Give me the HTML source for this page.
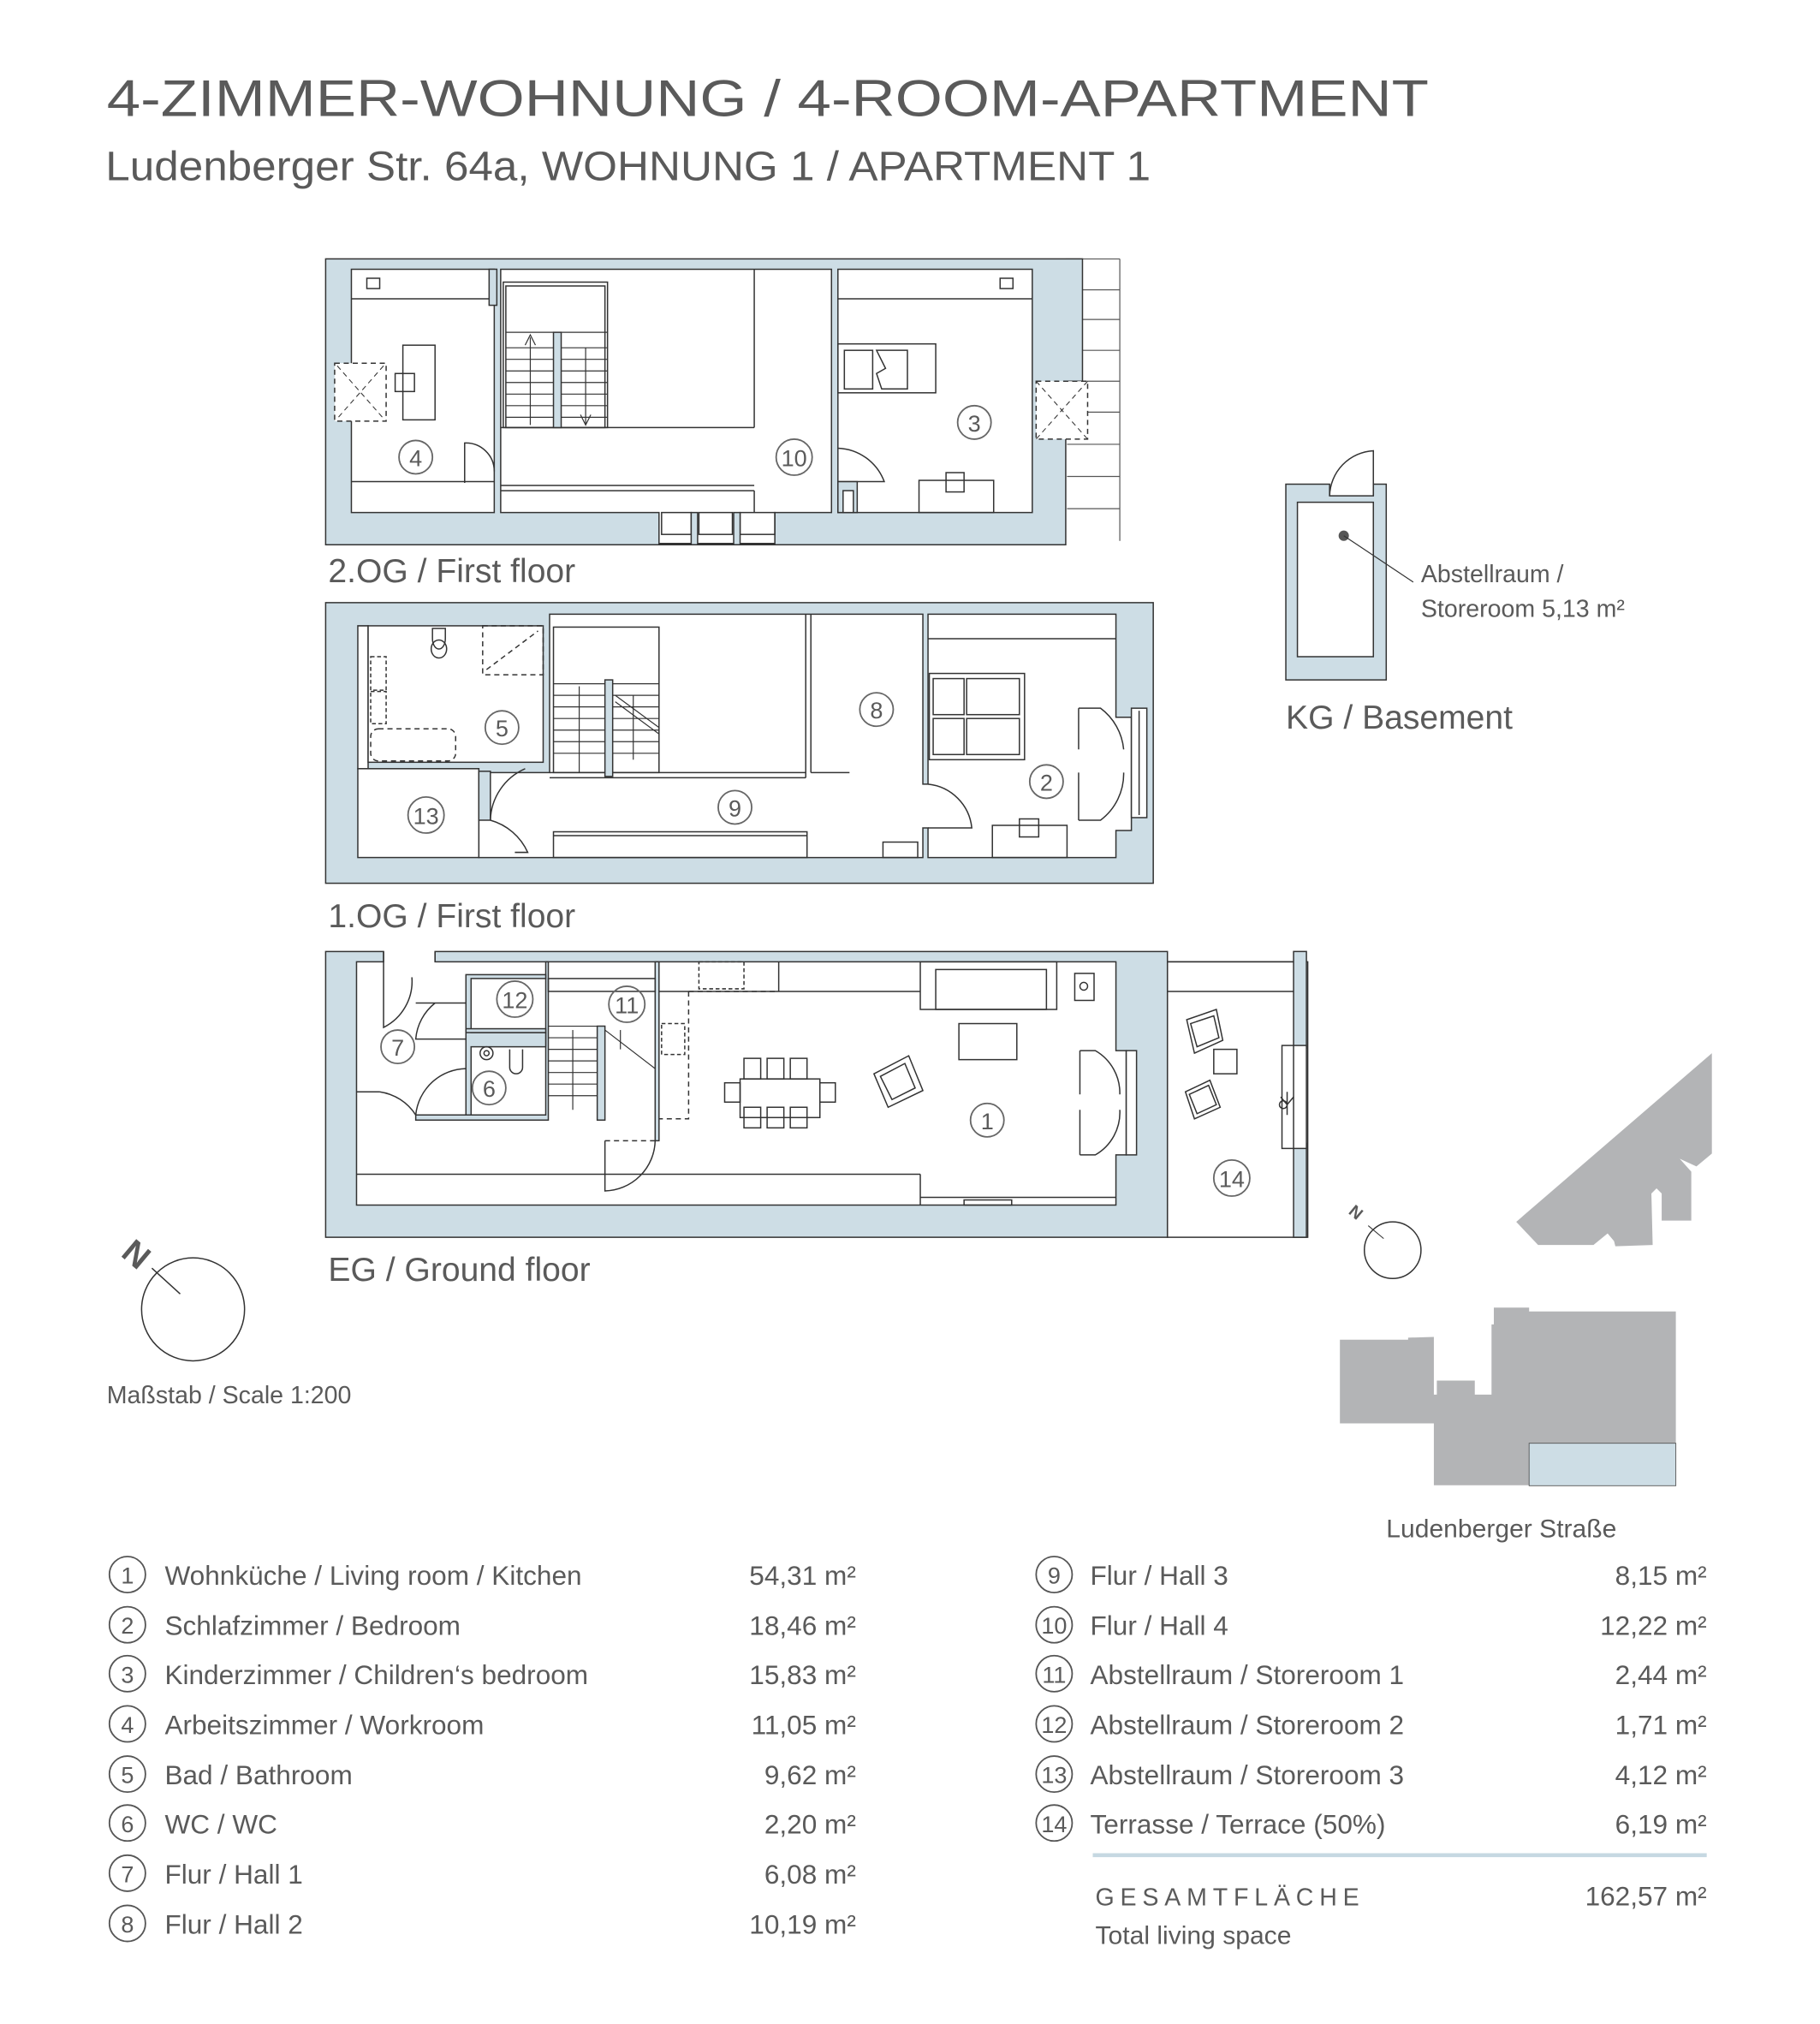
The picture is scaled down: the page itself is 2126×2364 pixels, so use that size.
<!DOCTYPE html>
<html><head><meta charset="utf-8">
<style>
html,body{margin:0;padding:0;background:#fff;}
svg{display:block;}
text{font-family:"Liberation Sans",sans-serif;fill:#5a5a5a;}
</style></head>
<body>
<svg width="2126" height="2364" viewBox="0 0 1414 1572" xmlns="http://www.w3.org/2000/svg">
<rect x="0" y="0" width="1414" height="1572" fill="#fff"/>

<!-- Title -->
<text x="83" y="90" font-size="40" textLength="1027" lengthAdjust="spacingAndGlyphs" fill="#3a3a3a">4-ZIMMER-WOHNUNG / 4-ROOM-APARTMENT</text>
<text x="82" y="140" font-size="32" textLength="812" lengthAdjust="spacingAndGlyphs" fill="#7a7a7a">Ludenberger Str. 64a, WOHNUNG 1 / APARTMENT 1</text>

<g fill="none" stroke="#333" stroke-width="1">

<!-- ================= 2.OG ================= -->
<g stroke="#555" stroke-width="0.8">
<line x1="828" y1="201" x2="870" y2="201"/>
<line x1="870" y1="201" x2="870" y2="420"/>
<line x1="829" y1="225" x2="870" y2="225"/>
<line x1="829" y1="248" x2="870" y2="248"/>
<line x1="829" y1="272" x2="870" y2="272"/>
<line x1="829" y1="296" x2="870" y2="296"/>
<line x1="829" y1="320" x2="870" y2="320"/>
<line x1="829" y1="345" x2="870" y2="345"/>
<line x1="829" y1="370" x2="870" y2="370"/>
<line x1="829" y1="395" x2="870" y2="395"/>
</g>
<path fill="#cddde5" fill-rule="evenodd" d="M253,201 H841 V296 H828 V341 H828 V423 H253 Z
M273,209 V398 H384 V209 Z
M389,209 V398 H512 V422 H602 V398 H646 V209 Z
M651,209 V398 H802 V209 Z"/>
<rect x="805" y="296" width="40" height="45" fill="#fff" stroke-dasharray="4,3"/>
<line x1="805" y1="296" x2="845" y2="341" stroke-dasharray="4,3" stroke-width="0.7"/>
<line x1="845" y1="296" x2="805" y2="341" stroke-dasharray="4,3" stroke-width="0.7"/>
<rect x="380" y="209" width="6" height="28" fill="#cddde5"/>
<line x1="273" y1="232" x2="380" y2="232"/>
<rect x="285" y="216" width="10" height="8"/>
<rect x="260" y="282" width="40" height="45" fill="#fff" stroke-dasharray="4,3"/>
<line x1="262" y1="284" x2="298" y2="325" stroke-dasharray="4,3" stroke-width="0.7"/>
<line x1="298" y1="284" x2="262" y2="325" stroke-dasharray="4,3" stroke-width="0.7"/>
<rect x="313" y="268" width="25" height="58"/>
<rect x="307" y="290" width="15" height="14"/>
<line x1="273" y1="374" x2="384" y2="374"/>
<path d="M361,375 V344 A22,22 0 0 1 384,366"/>
<rect x="391" y="219" width="81" height="113"/>
<rect x="393" y="222" width="77" height="110"/>
<line x1="389" y1="332" x2="586" y2="332"/>
<line x1="586" y1="209" x2="586" y2="332"/>
<g stroke-width="0.8">
<line x1="393" y1="258" x2="472" y2="258"/>
<line x1="393" y1="270" x2="472" y2="270"/>
<line x1="393" y1="279" x2="472" y2="279"/>
<line x1="393" y1="288" x2="472" y2="288"/>
<line x1="393" y1="297" x2="472" y2="297"/>
<line x1="393" y1="306" x2="472" y2="306"/>
<line x1="393" y1="315" x2="472" y2="315"/>
<line x1="393" y1="324" x2="472" y2="324"/>
<line x1="412" y1="262" x2="412" y2="330"/>
<line x1="455" y1="270" x2="455" y2="330"/>
<path d="M408,268 L412,260 L416,268"/>
<path d="M451,322 L455,330 L459,322"/>
</g>
<rect x="430" y="258" width="6" height="74" fill="#cddde5"/>
<line x1="389" y1="377" x2="586" y2="377"/>
<line x1="389" y1="381" x2="586" y2="381"/>
<line x1="586" y1="381" x2="586" y2="398"/>
<rect x="514" y="398" width="23" height="17"/>
<rect x="543" y="398" width="26" height="17"/>
<rect x="575" y="398" width="27" height="17"/>
<rect x="537" y="398" width="5" height="25" fill="#cddde5"/>
<rect x="570" y="398" width="5" height="25" fill="#cddde5"/>
<line x1="651" y1="232" x2="802" y2="232"/>
<rect x="777" y="216" width="10" height="8"/>
<rect x="651" y="267" width="76" height="38"/>
<rect x="656" y="272" width="22" height="30"/>
<path d="M681,272 H705 V302 H685 L681,290 L688,286 Z"/>
<rect x="714" y="373" width="58" height="25"/>
<rect x="735" y="367" width="14" height="15"/>
<path d="M651,348 A40,40 0 0 1 687,374 H651"/>
<rect x="651" y="374" width="15" height="24" fill="#cddde5"/>
<rect x="655" y="381" width="8" height="17" fill="#fff"/>

<!-- ================= 1.OG ================= -->
<path fill="#cddde5" fill-rule="evenodd" d="M253,468 H896 V686 H253 Z
M427,477 V600 H286 V486 H278 V597 H372 V666 H717 V643 H721 V666 H867 V645 H879 V557 H867 V477 H721 V609 H717 V477 Z"/>
<rect x="286" y="486" width="136" height="106" fill="#fff"/>
<rect x="278" y="597" width="94" height="69" fill="#fff"/>
<rect x="372" y="599" width="9" height="38" fill="#cddde5"/>
<path d="M336,488 h10 v8 a5,8 0 0 1 -10,0 z"/>
<ellipse cx="341" cy="504" rx="6" ry="7"/>
<rect x="375" y="486" width="47" height="38" stroke-dasharray="4,3"/>
<line x1="378" y1="520" x2="418" y2="490" stroke-dasharray="4,3"/>
<rect x="288" y="510" width="12" height="26" stroke-dasharray="3,2"/>
<rect x="288" y="537" width="12" height="25" stroke-dasharray="3,2"/>
<rect x="288" y="566" width="66" height="25" rx="6" stroke-dasharray="4,3"/>
<path d="M381,637 A45,45 0 0 1 408,597"/>
<path d="M381,637 A45,45 0 0 1 410,662 H400"/>
<rect x="430" y="487" width="82" height="113"/>
<line x1="427" y1="600" x2="626" y2="600"/>
<line x1="427" y1="604" x2="626" y2="604"/>
<line x1="626" y1="477" x2="626" y2="604"/>
<line x1="630" y1="477" x2="630" y2="600"/>
<line x1="630" y1="600" x2="660" y2="600"/>
<g stroke-width="0.8">
<line x1="430" y1="531" x2="512" y2="531"/>
<line x1="430" y1="540" x2="512" y2="540"/>
<line x1="430" y1="549" x2="512" y2="549"/>
<line x1="430" y1="558" x2="512" y2="558"/>
<line x1="430" y1="567" x2="512" y2="567"/>
<line x1="430" y1="576" x2="512" y2="576"/>
<line x1="430" y1="585" x2="512" y2="585"/>
<line x1="450" y1="533" x2="450" y2="600"/>
<line x1="492" y1="540" x2="492" y2="590"/>
<line x1="478" y1="540" x2="512" y2="565"/>
<line x1="478" y1="545" x2="512" y2="570"/>
</g>
<rect x="470" y="528" width="6" height="75" fill="#cddde5"/>
<rect x="430" y="646" width="197" height="20"/>
<line x1="430" y1="649" x2="627" y2="649"/>
<rect x="686" y="654" width="27" height="12"/>
<path d="M721,609 A38,38 0 0 1 755,643 H721"/>
<line x1="721" y1="496" x2="867" y2="496"/>
<rect x="722" y="523" width="74" height="67"/>
<rect x="725" y="527" width="24" height="28"/><rect x="725" y="558" width="24" height="28"/>
<rect x="751" y="527" width="41" height="28"/><rect x="751" y="558" width="41" height="28"/>
<rect x="771" y="641" width="58" height="25"/>
<rect x="792" y="636" width="15" height="14"/>
<path d="M838,550 H855 A45,45 0 0 1 873,582"/>
<path d="M838,637 H855 A45,45 0 0 0 873,600"/>
<line x1="838" y1="550" x2="838" y2="582"/><line x1="838" y1="600" x2="838" y2="637"/>
<rect x="879" y="550" width="12" height="85" fill="#fff"/>
<line x1="885" y1="552" x2="885" y2="633"/>

<!-- ================= EG ================= -->
<rect x="907" y="747" width="109" height="214" fill="#fff"/>
<line x1="907" y1="747" x2="1005" y2="747"/>
<line x1="907" y1="770" x2="1005" y2="770"/>
<rect x="1005" y="739" width="10" height="75" fill="#cddde5"/>
<rect x="1005" y="888" width="10" height="73" fill="#cddde5"/>
<rect x="996" y="812" width="19" height="80" fill="#fff"/>
<line x1="1005" y1="812" x2="1005" y2="892"/>
<path d="M995,852 L1000,858 L1005,852 M1000,848 L1000,866"/>
<circle cx="997" cy="858" r="3"/>
<path d="M922,792 L945,784 L950,808 L928,818 Z"/><path d="M925,795 L943,789 L947,806 L930,813 Z"/>
<path d="M921,848 L940,839 L948,860 L928,869 Z"/><path d="M924,850 L939,843 L945,858 L930,865 Z"/>
<rect x="943" y="815" width="18" height="19"/>
<path fill="#cddde5" fill-rule="evenodd" d="M253,739 H298 V747 H277 V936 H867 V897 H875 V816 H867 V747 H338 V739 H907 V961 H253 Z"/>
<line x1="298" y1="739" x2="298" y2="747"/><line x1="338" y1="739" x2="338" y2="747"/>
<path fill="#cddde5" d="M323,866 H424 V747 H426 V870 H323 Z"/>
<path fill="#cddde5" d="M362,757 H424 V760 H366 V802 H424 V813 H366 V866 H362 Z"/>
<rect x="362" y="799" width="62" height="3" fill="#cddde5"/>
<path fill="#cddde5" d="M509,747 H512 V886 H509 Z"/>
<path fill="#cddde5" d="M464,797 H470 V870 H464 Z"/>
<path d="M298,747 V798 A40,40 0 0 0 320,759"/>
<path d="M338,779 A40,40 0 0 0 323,807 H362 M323,779 H362"/>
<path d="M295,848 A40,40 0 0 1 323,866"/>
<path d="M362,830 A40,40 0 0 0 323,866"/>
<line x1="277" y1="848" x2="295" y2="848"/>
<circle cx="378" cy="818" r="5"/><circle cx="378" cy="818" r="2"/>
<path d="M396,815 V829 A5,5 0 0 0 406,829 V815"/>
<rect x="426" y="760" width="83" height="10"/>
<g stroke-width="0.8">
<line x1="426" y1="797" x2="464" y2="797"/>
<line x1="426" y1="806" x2="464" y2="806"/>
<line x1="426" y1="815" x2="464" y2="815"/>
<line x1="426" y1="824" x2="464" y2="824"/>
<line x1="426" y1="833" x2="464" y2="833"/>
<line x1="426" y1="842" x2="464" y2="842"/>
<line x1="426" y1="851" x2="464" y2="851"/>
<line x1="445" y1="800" x2="445" y2="862"/>
<line x1="470" y1="800" x2="509" y2="830"/>
<line x1="482" y1="800" x2="482" y2="815"/>
</g>
<path d="M470,886 V925 A40,40 0 0 0 509,886" />
<line x1="470" y1="886" x2="509" y2="886" stroke-dasharray="4,3"/>
<line x1="512" y1="770" x2="715" y2="770"/>
<line x1="605" y1="747" x2="605" y2="770"/>
<rect x="543" y="747" width="35" height="21" stroke-dasharray="3,2"/>
<path d="M535,770 H605" stroke-dasharray="4,3"/>
<path d="M535,770 V869 H512" stroke-dasharray="4,3"/>
<rect x="514" y="795" width="18" height="24" stroke-dasharray="3,2"/>
<rect x="715" y="747" width="106" height="37"/>
<rect x="727" y="753" width="86" height="31"/>
<rect x="835" y="756" width="15" height="21"/><circle cx="842" cy="766" r="3"/>
<rect x="745" y="795" width="45" height="28"/>
<rect x="575" y="838" width="62" height="30"/>
<rect x="578" y="822" width="13" height="16"/><rect x="596" y="822" width="13" height="16"/><rect x="614" y="822" width="13" height="16"/>
<rect x="578" y="860" width="13" height="16"/><rect x="596" y="860" width="13" height="16"/><rect x="614" y="860" width="13" height="16"/>
<rect x="563" y="841" width="12" height="15"/><rect x="637" y="841" width="12" height="15"/>
<path d="M679,834 L706,820 L717,847 L690,860 Z"/><path d="M684,836 L703,826 L711,845 L693,854 Z"/>
<line x1="277" y1="912" x2="715" y2="912"/>
<line x1="715" y1="912" x2="715" y2="936"/>
<line x1="715" y1="930" x2="867" y2="930"/>
<rect x="749" y="932" width="37" height="4"/>
<path d="M839,816 H851 A38,38 0 0 1 870,850"/>
<path d="M839,897 H851 A38,38 0 0 0 870,862"/>
<line x1="839" y1="816" x2="839" y2="850"/><line x1="839" y1="862" x2="839" y2="897"/>
<rect x="875" y="816" width="8" height="81" fill="#fff"/>

<!-- ================= KG ================= -->
<path fill="#cddde5" fill-rule="evenodd" d="M999,376 H1033 V385 H1067 V376 H1077 V528 H999 Z M1008,390 V510 H1067 V390 Z"/>
<path d="M1033,385 A36,36 0 0 1 1067,350 V385"/>
<circle cx="1044" cy="416" r="4" fill="#555" stroke="none"/>
<line x1="1044" y1="416" x2="1098" y2="452" stroke-width="0.8"/>

<circle cx="150" cy="1017" r="40"/>
<line x1="118" y1="985" x2="140" y2="1005"/>
<circle cx="1082" cy="971" r="22"/>
<line x1="1063" y1="952" x2="1075" y2="962" stroke-width="0.7"/>
</g>
<text x="0" y="0" font-size="26" font-weight="bold" fill="#222" transform="translate(93,975) rotate(40)">N</text>
<text x="0" y="0" font-size="13" font-weight="bold" fill="#222" transform="translate(1047,942) rotate(40)">N</text>

<!-- site plan -->
<g fill="#b3b4b6">
<path d="M1178,949 L1330,818 L1330,896 L1318,906 L1305,900 L1314,910 L1314,948 L1291,948 L1291,927 L1287,923 L1283,927 L1284,967 L1255,968 L1254,964 L1249,958 L1238,967 L1195,967 Z"/>
<path d="M1041,1040.6 L1094,1040.6 L1094,1039 L1114,1038.4 L1114,1083.2 L1116.3,1083.2 L1116.3,1072.3 L1145.8,1072.3 L1145.8,1083.2 L1158.8,1083.2 L1158.8,1028.7 L1160.6,1028.7 L1160.6,1015.6 L1188,1015.6 L1188,1018.6 L1302,1018.6 L1302,1153.6 L1114,1153.6 L1114,1105.6 L1041,1105.6 Z"/>
</g>
<rect x="1188" y="1121" width="114" height="33" fill="#cddde5" stroke="#555" stroke-width="0.6"/>

<!-- Floor labels -->
<text x="255" y="452" font-size="26" fill="#777">2.OG / First floor</text>
<text x="255" y="720" font-size="26" fill="#777">1.OG / First floor</text>
<text x="255" y="995" font-size="26" fill="#777">EG / Ground floor</text>
<text x="999" y="566" font-size="26" fill="#777">KG / Basement</text>
<text x="1104" y="452" font-size="19" fill="#777">Abstellraum /</text>
<text x="1104" y="479" font-size="19" fill="#777">Storeroom 5,13 m²</text>
<text x="83" y="1090" font-size="19" fill="#666">Maßstab / Scale 1:200</text>
<text x="1077" y="1194" font-size="20" fill="#666">Ludenberger Straße</text>

<g fill="none" stroke="#666" stroke-width="1.2">
<circle cx="323" cy="355" r="13"/><circle cx="617" cy="355" r="14"/><circle cx="757" cy="328" r="13"/>
<circle cx="390" cy="565" r="13"/><circle cx="331" cy="633" r="14"/><circle cx="571" cy="627" r="13"/>
<circle cx="681" cy="551" r="13"/><circle cx="813" cy="607" r="13"/>
<circle cx="767" cy="870" r="13"/><circle cx="309" cy="813" r="13"/><circle cx="400" cy="776" r="14"/>
<circle cx="487" cy="780" r="14"/><circle cx="380" cy="845" r="13"/><circle cx="957" cy="915" r="14"/>
</g>
<g font-size="18" text-anchor="middle" fill="#666">
<text x="323" y="362">4</text><text x="617" y="362">10</text><text x="757" y="335">3</text>
<text x="390" y="572">5</text><text x="331" y="640">13</text><text x="571" y="634">9</text>
<text x="681" y="558">8</text><text x="813" y="614">2</text>
<text x="767" y="877">1</text><text x="309" y="820">7</text><text x="400" y="783">12</text>
<text x="487" y="787">11</text><text x="380" y="852">6</text><text x="957" y="922">14</text>
</g>

<!-- Legend -->
<g fill="none" stroke="#555" stroke-width="1.2">
<circle cx="99" cy="1223" r="14"/><circle cx="99" cy="1262" r="14"/><circle cx="99" cy="1300" r="14"/><circle cx="99" cy="1339" r="14"/>
<circle cx="99" cy="1378" r="14"/><circle cx="99" cy="1416" r="14"/><circle cx="99" cy="1455" r="14"/><circle cx="99" cy="1494" r="14"/>
<circle cx="819" cy="1223" r="14"/><circle cx="819" cy="1262" r="14"/><circle cx="819" cy="1300" r="14"/><circle cx="819" cy="1339" r="14"/>
<circle cx="819" cy="1378" r="14"/><circle cx="819" cy="1416" r="14"/>
</g>
<g font-size="18" text-anchor="middle" fill="#555">
<text x="99" y="1230">1</text><text x="99" y="1269">2</text><text x="99" y="1307">3</text><text x="99" y="1346">4</text>
<text x="99" y="1385">5</text><text x="99" y="1423">6</text><text x="99" y="1462">7</text><text x="99" y="1501">8</text>
<text x="819" y="1230">9</text><text x="819" y="1269">10</text><text x="819" y="1307">11</text><text x="819" y="1346">12</text>
<text x="819" y="1385">13</text><text x="819" y="1423">14</text>
</g>
<g font-size="21" fill="#5a5a5a">
<text x="128" y="1231">Wohnküche / Living room / Kitchen</text>
<text x="128" y="1270">Schlafzimmer / Bedroom</text>
<text x="128" y="1308">Kinderzimmer / Children‘s bedroom</text>
<text x="128" y="1347">Arbeitszimmer / Workroom</text>
<text x="128" y="1386">Bad / Bathroom</text>
<text x="128" y="1424">WC / WC</text>
<text x="128" y="1463">Flur / Hall 1</text>
<text x="128" y="1502">Flur / Hall 2</text>
<text x="847" y="1231">Flur / Hall 3</text>
<text x="847" y="1270">Flur / Hall 4</text>
<text x="847" y="1308">Abstellraum / Storeroom 1</text>
<text x="847" y="1347">Abstellraum / Storeroom 2</text>
<text x="847" y="1386">Abstellraum / Storeroom 3</text>
<text x="847" y="1424">Terrasse / Terrace (50%)</text>
</g>
<g font-size="21" fill="#5a5a5a" text-anchor="end">
<text x="665" y="1231">54,31 m²</text><text x="665" y="1270">18,46 m²</text><text x="665" y="1308">15,83 m²</text><text x="665" y="1347">11,05 m²</text>
<text x="665" y="1386">9,62 m²</text><text x="665" y="1424">2,20 m²</text><text x="665" y="1463">6,08 m²</text><text x="665" y="1502">10,19 m²</text>
<text x="1326" y="1231">8,15 m²</text><text x="1326" y="1270">12,22 m²</text><text x="1326" y="1308">2,44 m²</text><text x="1326" y="1347">1,71 m²</text>
<text x="1326" y="1386">4,12 m²</text><text x="1326" y="1424">6,19 m²</text>
<text x="1326" y="1480" fill="#333">162,57 m²</text>
</g>
<line x1="849" y1="1441" x2="1326" y2="1441" stroke="#c6d8e2" stroke-width="3"/>
<text x="851" y="1480" font-size="19" fill="#333" textLength="205" lengthAdjust="spacing">GESAMTFLÄCHE</text>
<text x="851" y="1510" font-size="20" fill="#333">Total living space</text>
</svg>
</body></html>
